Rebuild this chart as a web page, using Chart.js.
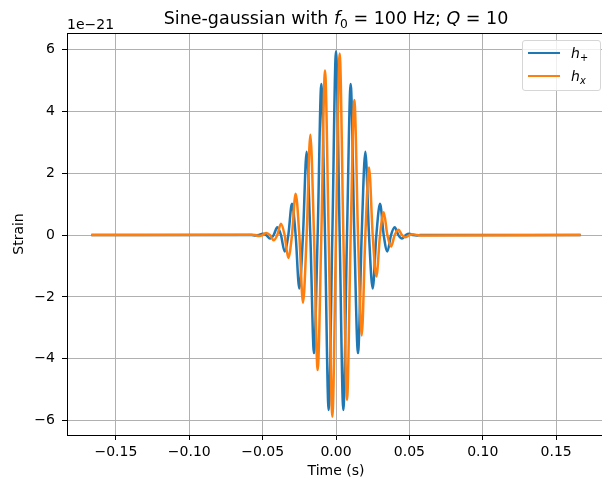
<!DOCTYPE html>
<html>
<head>
<meta charset="utf-8">
<script src="https://cdn.jsdelivr.net/npm/chart.js@4.4.1/dist/chart.umd.min.js"></script>
<style>
  html, body { margin: 0; padding: 0; background: #fff; overflow: hidden; }
  #wrap { position: relative; width: 610px; height: 480px; font-family: "DejaVu Sans", sans-serif; color: #000; }
  #title { position: absolute; left: 67px; width: 538px; top: 8px; text-align: center; font-size: 17.5px; line-height: 20px; white-space: nowrap; }
  #offset { position: absolute; left: 67px; top: 16px; font-size: 14px; line-height: 16px; }
  #legend { position: absolute; left: 522px; top: 40px; width: 77px; height: 49px; border: 1px solid #d6d6d6; border-radius: 3px; background: rgba(255,255,255,0.8); font-size: 14px; }
  .item { position: absolute; left: 5px; height: 20px; width: 70px; }
  .swatch { position: absolute; left: 0; top: 9px; width: 32px; height: 2px; }
  .lbl { position: absolute; left: 43px; top: 0; line-height: 20px; white-space: nowrap; }
  sub { font-size: 70%; vertical-align: -0.3em; line-height: 0; }
</style>
</head>
<body>
<div id="wrap">
  <canvas id="chart" width="610" height="480"></canvas>
  <div id="title">Sine-gaussian with <i>f</i><sub>0</sub> = 100 Hz; <i>Q</i> = 10</div>
  <div id="offset">1e&minus;21</div>
  <div id="legend">
    <div class="item" style="top:2px"><div class="swatch" style="background:#1f77b4"></div><span class="lbl"><i>h</i><sub>+</sub></span></div>
    <div class="item" style="top:25px"><div class="swatch" style="background:#ff7f0e"></div><span class="lbl"><i>h</i><sub><i>x</i></sub></span></div>
  </div>
</div>
<script>
// time samples (s) at quarter periods around the burst
const times = [
  -0.1667,
  -0.0575, -0.055, -0.0525, -0.05, -0.0475, -0.045, -0.0425, -0.04,
  -0.0375, -0.035, -0.0325, -0.03, -0.0275, -0.025, -0.0225, -0.02,
  -0.0175, -0.015, -0.0125, -0.01, -0.0075, -0.005, -0.0025, 0,
  0.0025, 0.005, 0.0075, 0.01, 0.0125, 0.015, 0.0175, 0.02,
  0.0225, 0.025, 0.0275, 0.03, 0.0325, 0.035, 0.0375, 0.04,
  0.0425, 0.045, 0.0475, 0.05, 0.0525, 0.055, 0.0575,
  0.1667
];

// strain in units of 1e-21
const hPlus = [
  0,
  0, -0.015, 0, 0.04, 0, -0.11, 0, 0.25,
  0, -0.53, 0, 1.01, 0, -1.73, 0, 2.70,
  0, -3.82, 0, 4.89, 0, -5.66, 0, 5.95,
  0, -5.66, 0, 4.89, 0, -3.82, 0, 2.70,
  0, -1.73, 0, 1.01, 0, -0.53, 0, 0.25,
  0, -0.11, 0, 0.04, 0, -0.015, 0,
  0
];

const hCross = [
  0,
  0.01, 0, -0.03, 0, 0.07, 0, -0.17, 0,
  0.37, 0, -0.74, 0, 1.34, 0, -2.19, 0,
  3.25, 0, -4.37, 0, 5.33, 0, -5.88, 0,
  5.88, 0, -5.33, 0, 4.37, 0, -3.25, 0,
  2.19, 0, -1.34, 0, 0.74, 0, -0.37, 0,
  0.17, 0, -0.07, 0, 0.03, 0, -0.01,
  0
];

const xTicks = [-0.15, -0.10, -0.05, 0, 0.05, 0.10, 0.15];
const yTicks = [-6, -4, -2, 0, 2, 4, 6];
const xRange = [-0.1833, 0.1833];
const yRange = [-6.47, 6.54];

const FONT = '"DejaVu Sans", sans-serif';

function toPoints(values) {
  return times.map((t, i) => ({ x: t, y: values[i] }));
}

function minusSign(s) {
  return s.replace('-', '\u2212');
}

// matplotlib draws the top spine too
const topSpine = {
  id: 'topSpine',
  afterDraw(chart) {
    const { ctx, chartArea } = chart;
    ctx.save();
    ctx.strokeStyle = '#000';
    ctx.lineWidth = 1;
    ctx.beginPath();
    ctx.moveTo(chartArea.left, Math.round(chartArea.top) + 0.5);
    ctx.lineTo(chartArea.right, Math.round(chartArea.top) + 0.5);
    ctx.stroke();
    ctx.restore();
  }
};

const ctx = document.getElementById('chart').getContext('2d');

new Chart(ctx, {
  type: 'line',
  data: {
    datasets: [
      {
        label: 'h+',
        data: toPoints(hPlus),
        borderColor: '#1f77b4',
        borderWidth: 2.5,
        pointRadius: 0,
        cubicInterpolationMode: 'monotone',
        order: 1
      },
      {
        label: 'hx',
        data: toPoints(hCross),
        borderColor: '#ff7f0e',
        borderWidth: 2.5,
        pointRadius: 0,
        cubicInterpolationMode: 'monotone',
        order: 0
      }
    ]
  },
  options: {
    responsive: false,
    animation: false,
    layout: { padding: { top: 33, right: 5, left: 0, bottom: 0 } },
    plugins: {
      legend: { display: false },
      tooltip: { enabled: false }
    },
    scales: {
      x: {
        type: 'linear',
        min: xRange[0],
        max: xRange[1],
        afterBuildTicks: scale => { scale.ticks = xTicks.map(v => ({ value: v })); },
        afterFit: scale => { scale.height = 45; },
        ticks: {
          callback: v => minusSign(v.toFixed(2)),
          color: '#000',
          font: { family: FONT, size: 14 },
          padding: 4,
          maxRotation: 0,
          autoSkip: false
        },
        grid: { color: '#b0b0b0', lineWidth: 1, tickLength: 5, tickColor: '#000', tickWidth: 1 },
        border: { color: '#000', width: 1 },
        title: {
          display: true,
          text: 'Time (s)',
          color: '#000',
          font: { family: FONT, size: 14 },
          padding: { top: 4.6, bottom: 0 }
        }
      },
      y: {
        type: 'linear',
        min: yRange[0],
        max: yRange[1],
        afterBuildTicks: scale => { scale.ticks = yTicks.map(v => ({ value: v })); },
        afterFit: scale => { scale.width = 67; },
        ticks: {
          callback: v => minusSign(String(v)),
          color: '#000',
          font: { family: FONT, size: 14 },
          padding: 7,
          autoSkip: false
        },
        grid: { color: '#b0b0b0', lineWidth: 1, tickLength: 5, tickColor: '#000', tickWidth: 1 },
        border: { color: '#000', width: 1 },
        title: {
          display: true,
          text: 'Strain',
          color: '#000',
          font: { family: FONT, size: 14 },
          padding: { top: 10.6, bottom: 0 }
        }
      }
    }
  },
  plugins: [topSpine]
});
</script>
</body>
</html>
